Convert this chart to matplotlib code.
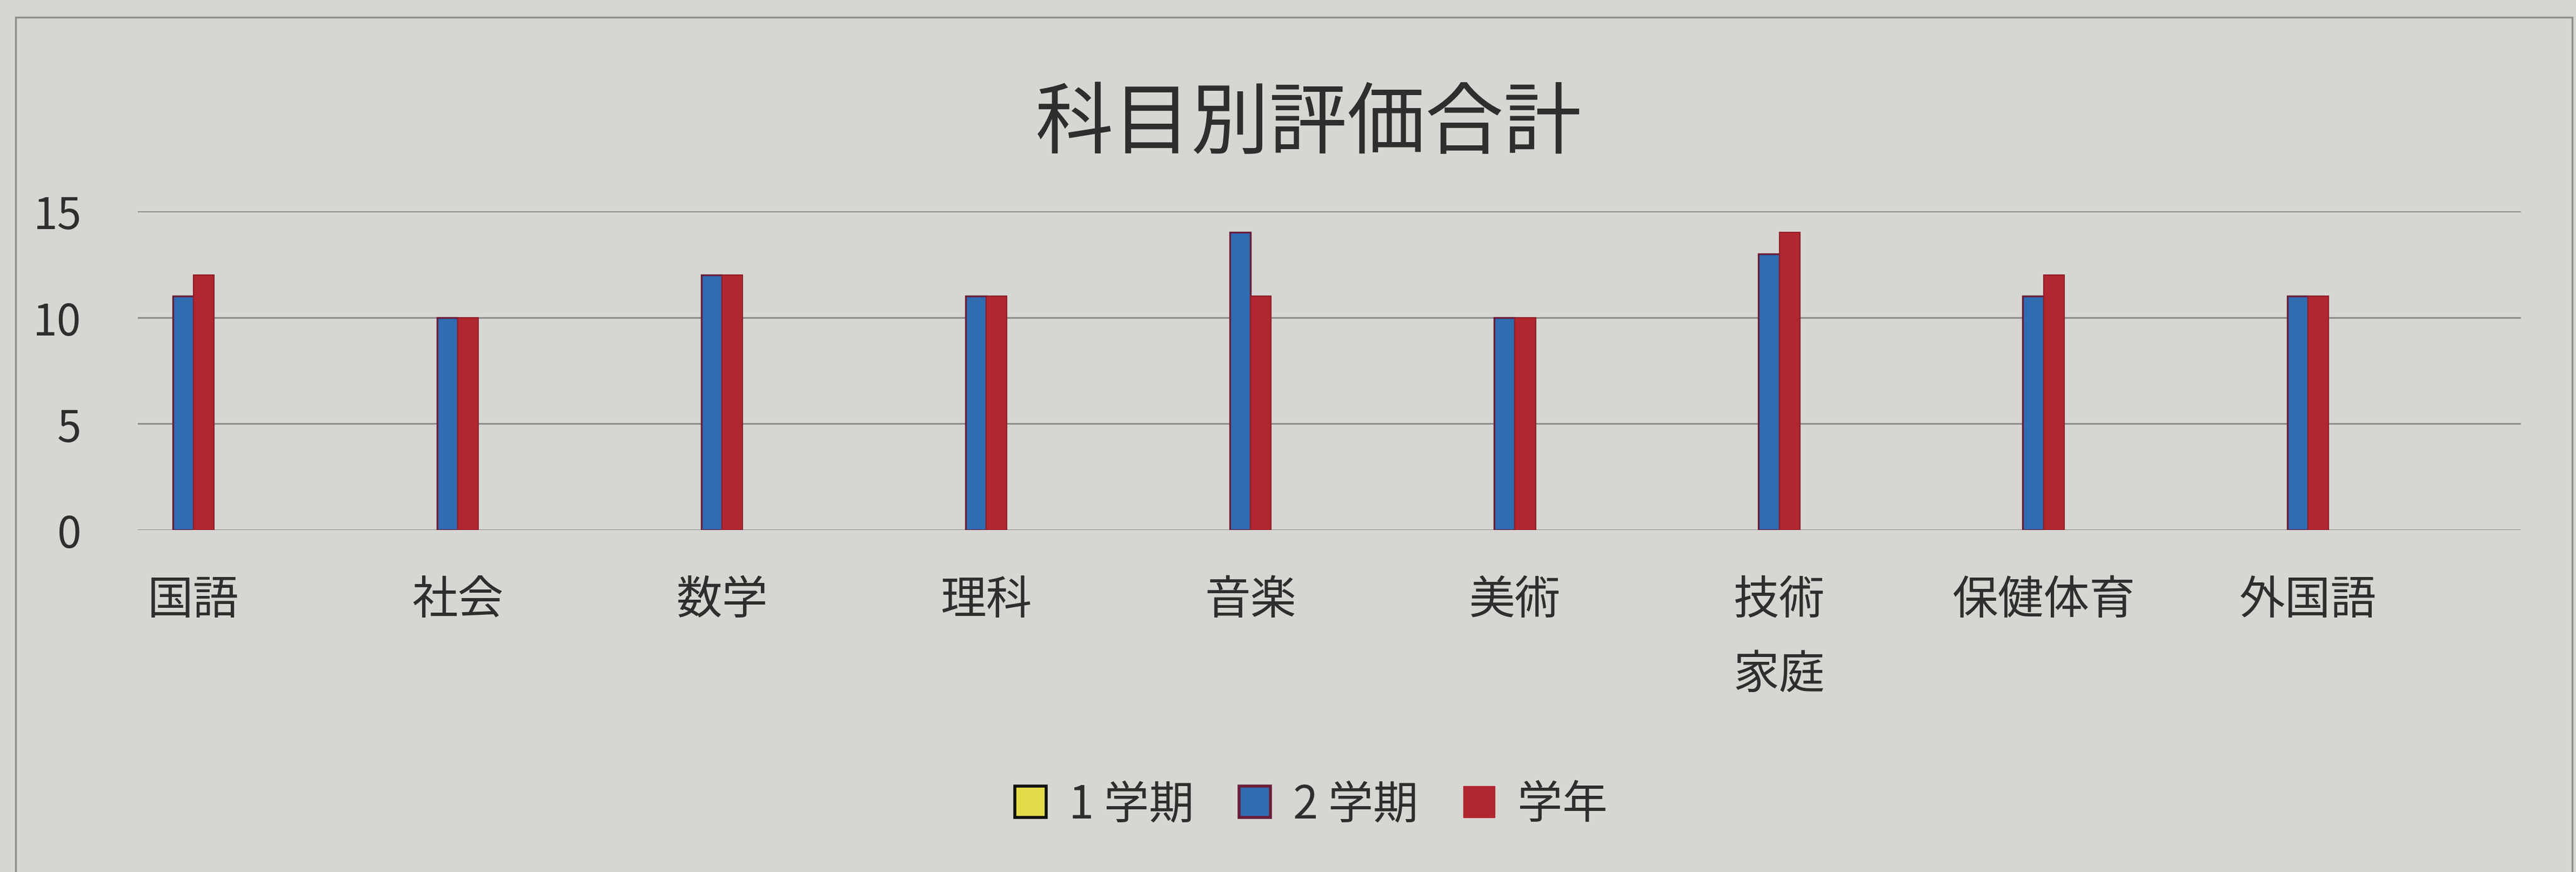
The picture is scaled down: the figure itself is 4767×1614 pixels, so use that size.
import matplotlib
matplotlib.use("Agg")
import matplotlib.pyplot as plt
from matplotlib.patches import Patch, Rectangle
import numpy as np

plt.rcParams['font.family'] = ['Noto Sans CJK JP', 'DejaVu Sans']

categories = ["国語", "社会", "数学", "理科", "音楽", "美術", "技術\n家庭", "保健体育", "外国語"]
series_names = ["1 学期", "2 学期", "学年"]
term1 = [0, 0, 0, 0, 0, 0, 0, 0, 0]
term2 = [11, 10, 12, 11, 14, 10, 13, 11, 11]
year_total = [12, 10, 12, 11, 11, 10, 14, 12, 11]
yticks = [0, 5, 10, 15]
title = "科目別評価合計"

W, H = 4767, 1615
DPI = 100
bg = "#d6d6d2"
txt = "#2e2e2e"
c_yellow = "#e3dc4a"
c_blue = "#2f6cb2"
c_blue_edge = "#6a1e3a"
c_red = "#b0272f"
c_red_edge = "#8e1f2a"

fig = plt.figure(figsize=(W / DPI, H / DPI), dpi=DPI, facecolor=bg)
ax = fig.add_axes([255 / W, 1 - 982 / H, (4665 - 255) / W, (982 - 392) / H])
ax.set_facecolor(bg)

x = np.arange(len(categories))
w = 0.078
ax.bar(x - 1.5 * w, term1, width=w, color=c_yellow, linewidth=0, zorder=3)
ax.bar(x - 0.5 * w, term2, width=w, color=c_blue, edgecolor=c_blue_edge, linewidth=2.4, zorder=3)
ax.bar(x + 0.5 * w, year_total, width=w, color=c_red, edgecolor=c_red_edge, linewidth=1.5, zorder=3)

ax.set_xlim(-0.21, 8.806)
ax.set_ylim(0, 15)
ax.set_yticks(yticks)
ax.set_yticklabels([str(v) for v in yticks], fontsize=58, color=txt)
ax.set_xticks(x)
ax.set_xticklabels(categories, fontsize=61, color=txt, linespacing=1.76, va="top")
ax.tick_params(axis="y", length=0, pad=75)
ax.tick_params(axis="x", length=0, pad=62)
ax.yaxis.grid(True, color="#8e8e8e", linewidth=2.2, zorder=0)
ax.xaxis.grid(False)
for s in ax.spines.values():
    s.set_visible(False)

fig.text(0.508, 1 - 232 / H, title, ha="center", va="center", fontsize=104, color=txt)

handles = [
    Patch(facecolor=c_yellow, edgecolor="#111111", linewidth=4),
    Patch(facecolor=c_blue, edgecolor=c_blue_edge, linewidth=4),
    Patch(facecolor=c_red, edgecolor=c_red, linewidth=1),
]
leg = fig.legend(handles, series_names, loc="center", bbox_to_anchor=(0.509, 1 - 1490 / H),
                 ncol=3, frameon=False, fontsize=60, handlelength=0.7, handleheight=0.7,
                 handletextpad=0.5, columnspacing=1.0, labelcolor=txt)

border = Rectangle((29 / W, -0.02), (4760 - 29) / W, (1 - 33 / H) + 0.02,
                   transform=fig.transFigure, fill=False, edgecolor="#8f8f8f", linewidth=2.5)
fig.patches.append(border)

fig.savefig("out.png", dpi=DPI, facecolor=bg)
